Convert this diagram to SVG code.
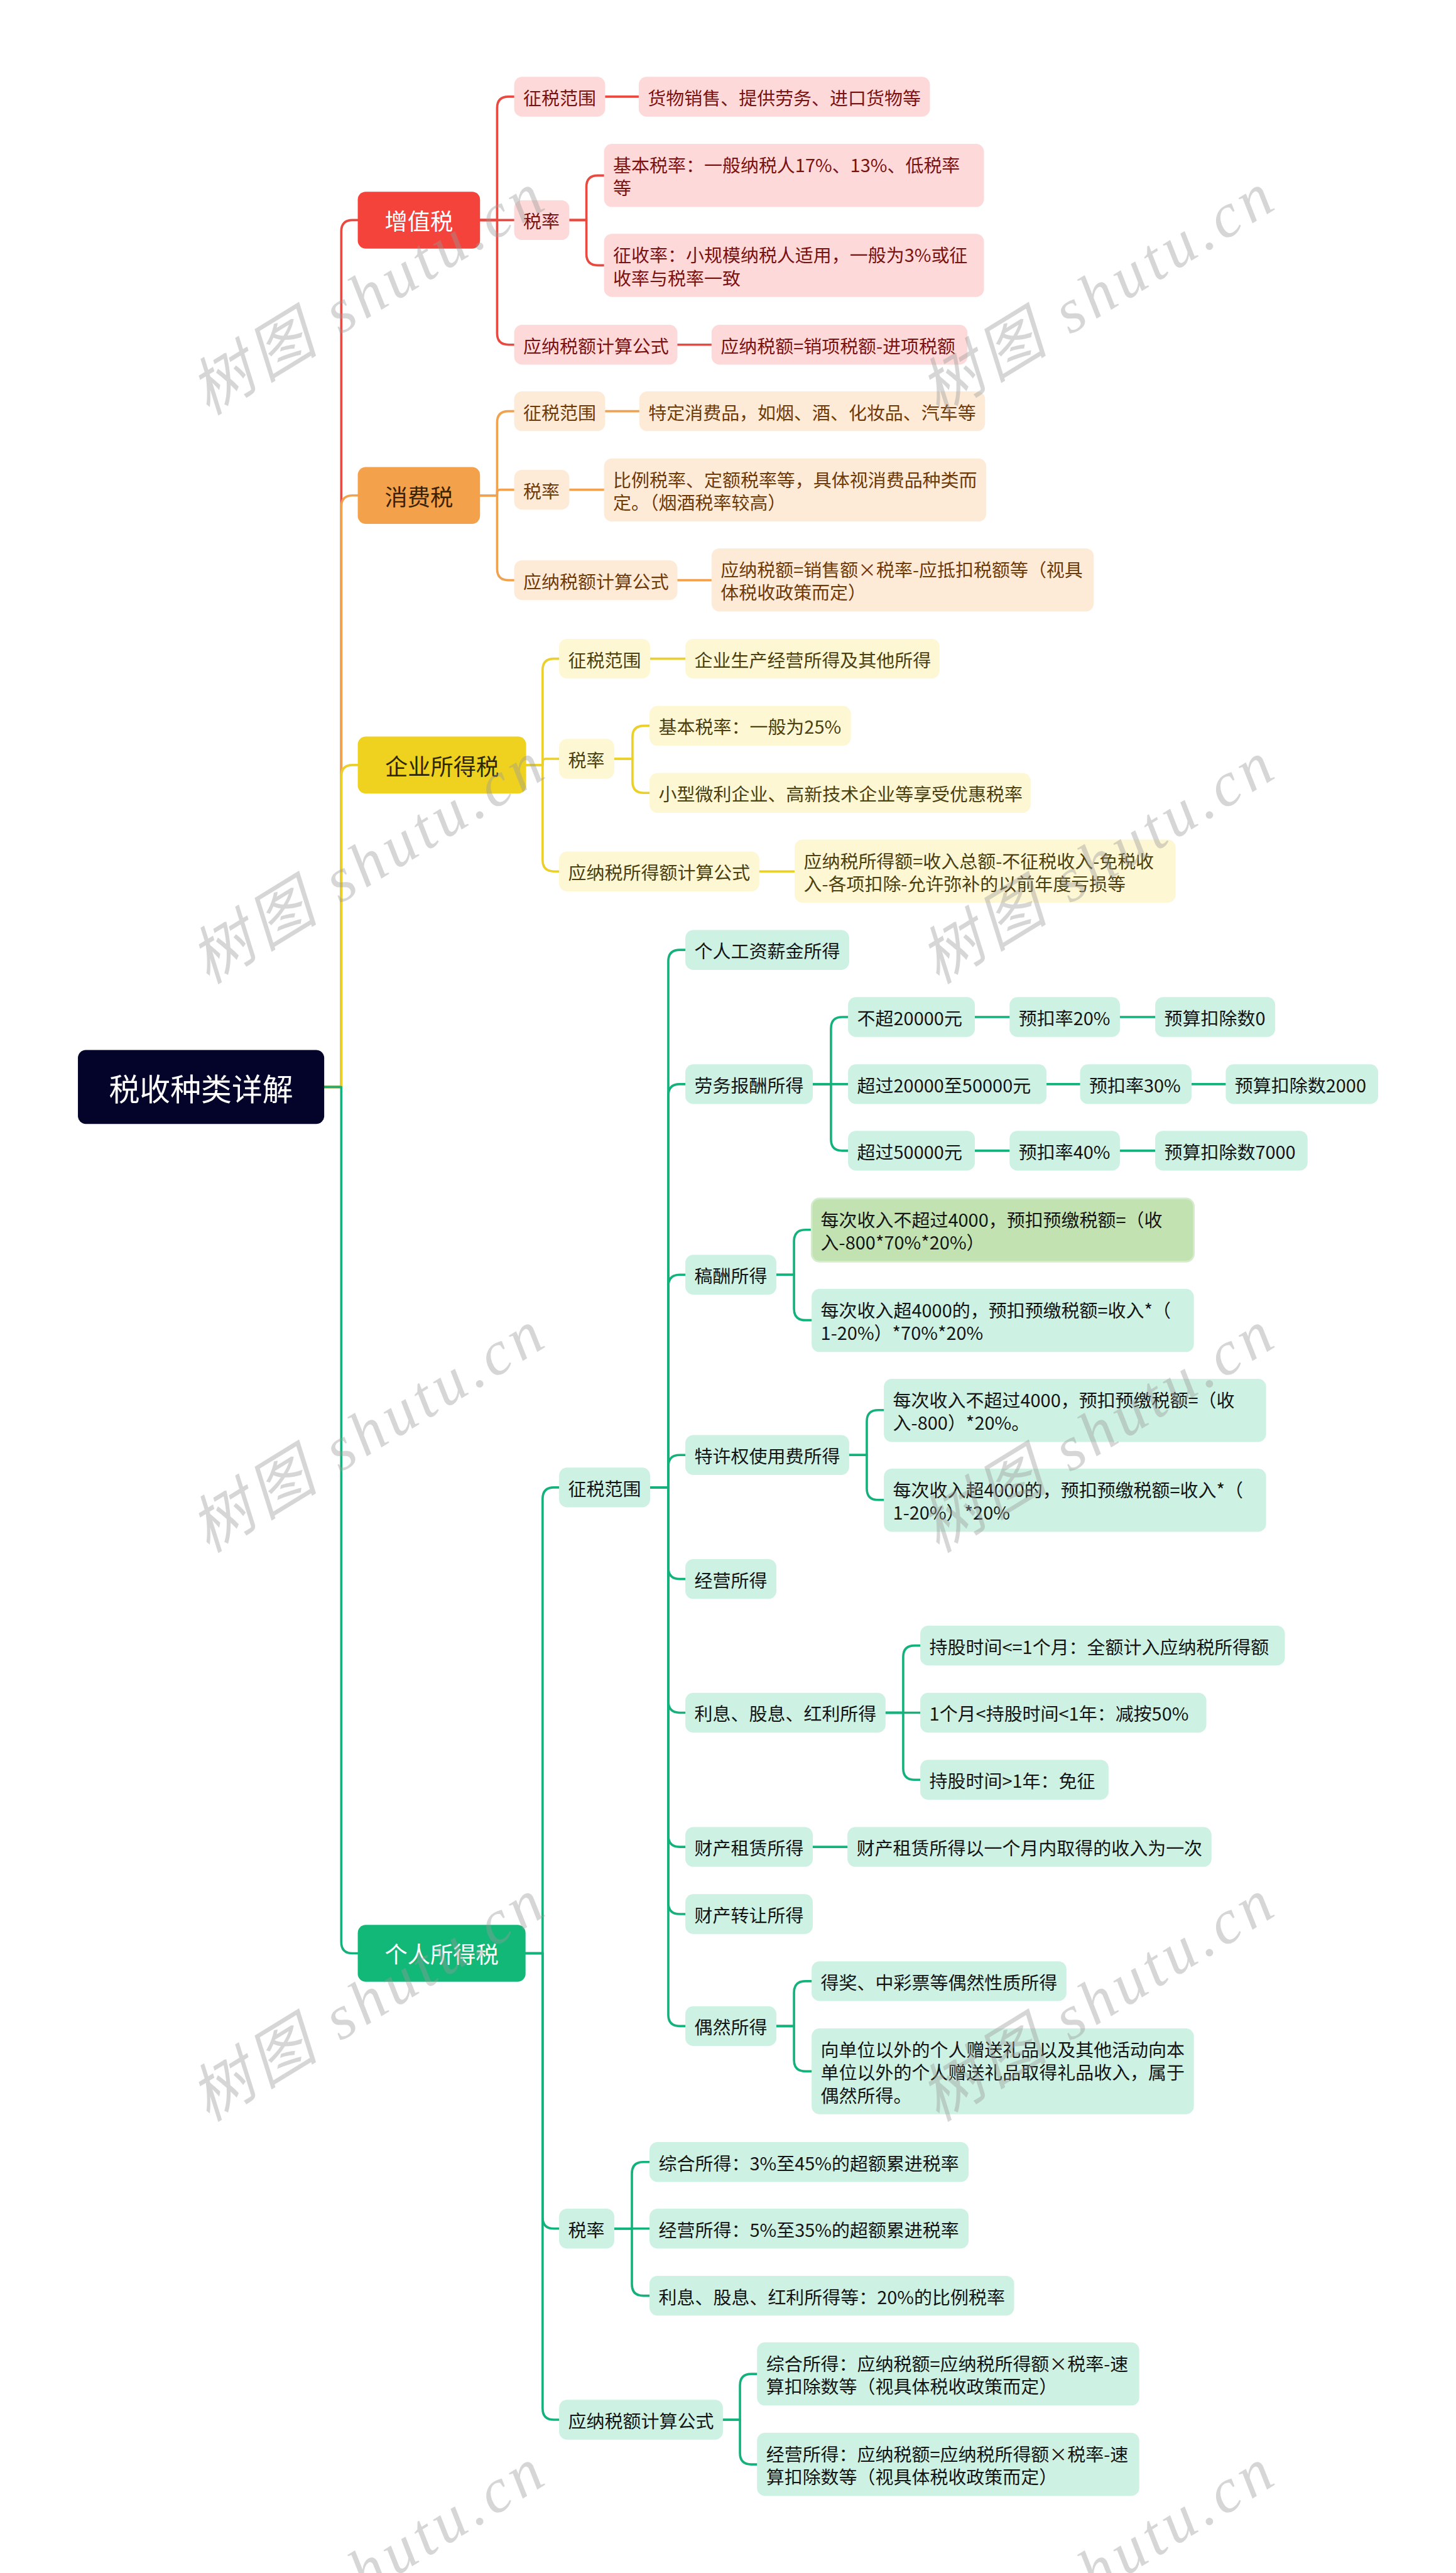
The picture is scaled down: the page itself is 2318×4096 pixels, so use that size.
<svg xmlns="http://www.w3.org/2000/svg" width="2318" height="4096" viewBox="0 0 2318 4096">
<style>
text{font-family:"Noto Sans CJK SC","Noto Sans",sans-serif;dominant-baseline:central}
.t{font-size:32px}
.l1{font-size:40px;text-anchor:middle}
.rt{font-size:54px;text-anchor:middle;fill:#fff}
.c path{fill:none;stroke-width:4;stroke-linecap:round;stroke-linejoin:round}
.cr path{stroke:#e84a41}.co path{stroke:#f1a24f}.cy path{stroke:#ecd02a}.cg path{stroke:#13b27a}
.r rect{fill:#fdd9d9}.r text{fill:#7a1212}
.o rect{fill:#fdebd8}.o text{fill:#6e3a08}
.y rect{fill:#fdf7d4}.y text{fill:#4a4010}
.g rect{fill:#cdf1e2}.g text{fill:#141414}
.wm{font-family:"Liberation Serif","Noto Sans CJK SC",serif;font-style:italic;font-size:110px;fill:#999;fill-opacity:.4;text-anchor:middle}
</style>
<g transform="scale(0.9055)">
<rect x="0" y="0" width="2560" height="4523" fill="#fff"/>
<g id="connectors" class="c">
<g class="cr">
<path d="M570 1911 H600 V407 Q600 387 620 387 H629"/>
<path d="M844 387 H874 V190 Q874 170 894 170 H904"/>
<path d="M844 387 H904"/>
<path d="M844 387 H874 V586 Q874 606 894 606 H904"/>
<path d="M1064 170 H1123"/>
<path d="M1001 387 H1031 V328.5 Q1031 308.5 1051 308.5 H1062"/>
<path d="M1001 387 H1031 V446.5 Q1031 466.5 1051 466.5 H1062"/>
<path d="M1191 606 H1251"/>
</g>
<g class="co">
<path d="M570 1911 H600 V891 Q600 871 620 871 H629"/>
<path d="M844 871 H874 V743 Q874 723 894 723 H904"/>
<path d="M844 871 H874 V866 Q874 861 879 861 H904"/>
<path d="M844 871 H874 V1000 Q874 1020 894 1020 H904"/>
<path d="M1064 723 H1124"/>
<path d="M1001 861 H1062"/>
<path d="M1191 1020 H1251"/>
</g>
<g class="cy">
<path d="M570 1911 H600 V1365 Q600 1345 620 1345 H629"/>
<path d="M925 1345 H954 V1178 Q954 1158 974 1158 H983"/>
<path d="M925 1345 H954 V1339 Q954 1334 959 1334 H983"/>
<path d="M925 1345 H954 V1512 Q954 1532 974 1532 H983"/>
<path d="M1143 1158 H1205"/>
<path d="M1080 1334 H1112 V1296 Q1112 1276 1132 1276 H1142"/>
<path d="M1080 1334 H1112 V1374 Q1112 1394 1132 1394 H1142"/>
<path d="M1335 1532 H1397"/>
</g>
<g class="cg">
<path d="M570 1911 H600 V3414 Q600 3434 620 3434 H629"/>
<path d="M924 3434 H954 V2635 Q954 2615 974 2615 H983"/>
<path d="M924 3434 H954 V3898 Q954 3918 974 3918 H983"/>
<path d="M924 3434 H954 V4234 Q954 4254 974 4254 H983"/>
<path d="M1143 2615 H1175 V1690 Q1175 1670 1195 1670 H1205"/>
<path d="M1143 2615 H1175 V1926 Q1175 1906 1195 1906 H1205"/>
<path d="M1143 2615 H1175 V2261 Q1175 2241 1195 2241 H1205"/>
<path d="M1143 2615 H1175 V2578 Q1175 2558 1195 2558 H1205"/>
<path d="M1143 2615 H1175 V2756 Q1175 2776 1195 2776 H1205"/>
<path d="M1143 2615 H1175 V2991 Q1175 3011 1195 3011 H1205"/>
<path d="M1143 2615 H1175 V3227 Q1175 3247 1195 3247 H1205"/>
<path d="M1143 2615 H1175 V3345 Q1175 3365 1195 3365 H1205"/>
<path d="M1143 2615 H1175 V3542 Q1175 3562 1195 3562 H1205"/>
<path d="M1429 1906 H1461 V1808 Q1461 1788 1481 1788 H1491"/>
<path d="M1429 1906 H1491"/>
<path d="M1429 1906 H1461 V2003 Q1461 2023 1481 2023 H1491"/>
<path d="M1714 1788 H1775"/><path d="M1969 1788 H2031"/>
<path d="M1840 1906 H1899"/><path d="M2095 1906 H2155"/>
<path d="M1714 2023 H1775"/><path d="M1969 2023 H2031"/>
<path d="M1365 2241 H1396 V2182 Q1396 2162 1416 2162 H1427"/>
<path d="M1365 2241 H1396 V2301 Q1396 2321 1416 2321 H1427"/>
<path d="M1493 2558 H1524 V2499 Q1524 2479 1544 2479 H1554"/>
<path d="M1493 2558 H1524 V2617 Q1524 2637 1544 2637 H1554"/>
<path d="M1557 3011 H1588 V2913 Q1588 2893 1608 2893 H1618"/>
<path d="M1557 3011 H1618"/>
<path d="M1557 3011 H1588 V3109 Q1588 3129 1608 3129 H1618"/>
<path d="M1429 3247 H1490"/>
<path d="M1365 3562 H1396 V3503 Q1396 3483 1416 3483 H1427"/>
<path d="M1365 3562 H1396 V3621.5 Q1396 3641.5 1416 3641.5 H1427"/>
<path d="M1080 3918 H1111 V3821 Q1111 3801 1131 3801 H1142"/>
<path d="M1080 3918 H1142"/>
<path d="M1080 3918 H1111 V4016 Q1111 4036 1131 4036 H1142"/>
<path d="M1271 4254 H1301 V4193.5 Q1301 4173.5 1321 4173.5 H1331"/>
<path d="M1271 4254 H1301 V4312.5 Q1301 4332.5 1321 4332.5 H1331"/>
</g>
</g>

<g id="root"><rect x="137" y="1846" width="433" height="130" rx="14" fill="#04042a"/><text class="rt" x="353.5" y="1911">税收种类详解</text></g>

<g id="vat"><rect x="629" y="337" width="215" height="100" rx="14" fill="#f4433b"/><text class="l1" x="736.5" y="387" fill="#fff">增值税</text></g>
<g class="r">
<g id="vat-scope"><rect x="904" y="135" width="160" height="70" rx="14"/><text class="t" x="920" y="170">征税范围</text></g>
<g id="vat-scope-c"><rect x="1123" y="135" width="512" height="70" rx="14"/><text class="t" x="1139" y="170">货物销售、提供劳务、进口货物等</text></g>
<g id="vat-rate"><rect x="904" y="352" width="97" height="70" rx="14"/><text class="t" x="920" y="387">税率</text></g>
<g id="vat-rate-a"><rect x="1062" y="253" width="668" height="111" rx="14"/><text class="t" x="1078" y="288.5">基本税率：一般纳税人17%、13%、低税率</text><text class="t" x="1078" y="328.5">等</text></g>
<g id="vat-rate-b"><rect x="1062" y="411" width="668" height="111" rx="14"/><text class="t" x="1078" y="446.5">征收率：小规模纳税人适用，一般为3%或征</text><text class="t" x="1078" y="486.5">收率与税率一致</text></g>
<g id="vat-formula"><rect x="904" y="571" width="287" height="70" rx="14"/><text class="t" x="920" y="606">应纳税额计算公式</text></g>
<g id="vat-formula-c"><rect x="1251" y="571" width="450" height="70" rx="14"/><text class="t" x="1267" y="606">应纳税额=销项税额-进项税额</text></g>
</g>

<g id="con"><rect x="629" y="821" width="215" height="100" rx="14" fill="#f4a14c"/><text class="l1" x="736.5" y="871" fill="#3a2205">消费税</text></g>
<g class="o">
<g id="con-scope"><rect x="904" y="688" width="160" height="70" rx="14"/><text class="t" x="920" y="723">征税范围</text></g>
<g id="con-scope-c"><rect x="1124" y="688" width="608" height="70" rx="14"/><text class="t" x="1140" y="723">特定消费品，如烟、酒、化妆品、汽车等</text></g>
<g id="con-rate"><rect x="904" y="826" width="97" height="70" rx="14"/><text class="t" x="920" y="861">税率</text></g>
<g id="con-rate-c"><rect x="1062" y="806" width="672" height="111" rx="14"/><text class="t" x="1078" y="841.5">比例税率、定额税率等，具体视消费品种类而</text><text class="t" x="1078" y="881.5">定。（烟酒税率较高）</text></g>
<g id="con-formula"><rect x="904" y="985" width="287" height="70" rx="14"/><text class="t" x="920" y="1020">应纳税额计算公式</text></g>
<g id="con-formula-c"><rect x="1251" y="964" width="672" height="111" rx="14"/><text class="t" x="1267" y="999.5">应纳税额=销售额×税率-应抵扣税额等（视具</text><text class="t" x="1267" y="1039.5">体税收政策而定）</text></g>
</g>

<g id="cit"><rect x="629" y="1295" width="296" height="100" rx="14" fill="#efd21f"/><text class="l1" x="777" y="1345" fill="#2e2800">企业所得税</text></g>
<g class="y">
<g id="cit-scope"><rect x="983" y="1123" width="160" height="70" rx="14"/><text class="t" x="999" y="1158">征税范围</text></g>
<g id="cit-scope-c"><rect x="1205" y="1123" width="447" height="70" rx="14"/><text class="t" x="1221" y="1158">企业生产经营所得及其他所得</text></g>
<g id="cit-rate"><rect x="983" y="1299" width="97" height="70" rx="14"/><text class="t" x="999" y="1334">税率</text></g>
<g id="cit-rate-a"><rect x="1142" y="1241" width="354" height="70" rx="14"/><text class="t" x="1158" y="1276">基本税率：一般为25%</text></g>
<g id="cit-rate-b"><rect x="1142" y="1359" width="670" height="70" rx="14"/><text class="t" x="1158" y="1394">小型微利企业、高新技术企业等享受优惠税率</text></g>
<g id="cit-formula"><rect x="983" y="1497" width="352" height="70" rx="14"/><text class="t" x="999" y="1532">应纳税所得额计算公式</text></g>
<g id="cit-formula-c"><rect x="1397" y="1476" width="670" height="111" rx="14"/><text class="t" x="1413" y="1511.5">应纳税所得额=收入总额-不征税收入-免税收</text><text class="t" x="1413" y="1551.5">入-各项扣除-允许弥补的以前年度亏损等</text></g>
</g>

<g id="pit"><rect x="629" y="3384" width="295" height="100" rx="14" fill="#12b878"/><text class="l1" x="776.5" y="3434" fill="#fff">个人所得税</text></g>
<g class="g">
<g id="pit-scope"><rect x="983" y="2580" width="160" height="70" rx="14"/><text class="t" x="999" y="2615">征税范围</text></g>
<g id="pit-salary"><rect x="1205" y="1635" width="288" height="70" rx="14"/><text class="t" x="1221" y="1670">个人工资薪金所得</text></g>
<g id="pit-labor"><rect x="1205" y="1871" width="224" height="70" rx="14"/><text class="t" x="1221" y="1906">劳务报酬所得</text></g>
<g id="lab-1"><rect x="1491" y="1753" width="223" height="70" rx="14"/><text class="t" x="1507" y="1788">不超20000元</text></g>
<g id="lab-1r"><rect x="1775" y="1753" width="194" height="70" rx="14"/><text class="t" x="1791" y="1788">预扣率20%</text></g>
<g id="lab-1d"><rect x="2031" y="1753" width="211" height="70" rx="14"/><text class="t" x="2047" y="1788">预算扣除数0</text></g>
<g id="lab-2"><rect x="1491" y="1871" width="349" height="70" rx="14"/><text class="t" x="1507" y="1906">超过20000至50000元</text></g>
<g id="lab-2r"><rect x="1899" y="1871" width="196" height="70" rx="14"/><text class="t" x="1915" y="1906">预扣率30%</text></g>
<g id="lab-2d"><rect x="2155" y="1871" width="268" height="70" rx="14"/><text class="t" x="2171" y="1906">预算扣除数2000</text></g>
<g id="lab-3"><rect x="1491" y="1988" width="223" height="70" rx="14"/><text class="t" x="1507" y="2023">超过50000元</text></g>
<g id="lab-3r"><rect x="1775" y="1988" width="194" height="70" rx="14"/><text class="t" x="1791" y="2023">预扣率40%</text></g>
<g id="lab-3d"><rect x="2031" y="1988" width="268" height="70" rx="14"/><text class="t" x="2047" y="2023">预算扣除数7000</text></g>
<g id="pit-royalty"><rect x="1205" y="2206" width="160" height="70" rx="14"/><text class="t" x="1221" y="2241">稿酬所得</text></g>
<g id="roy-1"><rect x="1427" y="2107" width="672" height="111" rx="14" style="fill:#c2e3b1;stroke:#d3eccb;stroke-width:3"/><text class="t" x="1443" y="2142">每次收入不超过4000，预扣预缴税额=（收</text><text class="t" x="1443" y="2182">入-800*70%*20%）</text></g>
<g id="roy-2"><rect x="1427" y="2266" width="672" height="111" rx="14"/><text class="t" x="1443" y="2301">每次收入超4000的，预扣预缴税额=收入*（</text><text class="t" x="1443" y="2341">1-20%）*70%*20%</text></g>
<g id="pit-franchise"><rect x="1205" y="2523" width="288" height="70" rx="14"/><text class="t" x="1221" y="2558">特许权使用费所得</text></g>
<g id="fr-1"><rect x="1554" y="2424" width="672" height="111" rx="14"/><text class="t" x="1570" y="2459">每次收入不超过4000，预扣预缴税额=（收</text><text class="t" x="1570" y="2499">入-800）*20%。</text></g>
<g id="fr-2"><rect x="1554" y="2582" width="672" height="111" rx="14"/><text class="t" x="1570" y="2617">每次收入超4000的，预扣预缴税额=收入*（</text><text class="t" x="1570" y="2657">1-20%）*20%</text></g>
<g id="pit-business"><rect x="1205" y="2741" width="160" height="70" rx="14"/><text class="t" x="1221" y="2776">经营所得</text></g>
<g id="pit-interest"><rect x="1205" y="2976" width="352" height="70" rx="14"/><text class="t" x="1221" y="3011">利息、股息、红利所得</text></g>
<g id="int-1"><rect x="1618" y="2858" width="641" height="70" rx="14"/><text class="t" x="1634" y="2893">持股时间&lt;=1个月：全额计入应纳税所得额</text></g>
<g id="int-2"><rect x="1618" y="2976" width="503" height="70" rx="14"/><text class="t" x="1634" y="3011">1个月&lt;持股时间&lt;1年：减按50%</text></g>
<g id="int-3"><rect x="1618" y="3094" width="331" height="70" rx="14"/><text class="t" x="1634" y="3129">持股时间&gt;1年：免征</text></g>
<g id="pit-lease"><rect x="1205" y="3212" width="224" height="70" rx="14"/><text class="t" x="1221" y="3247">财产租赁所得</text></g>
<g id="lease-c"><rect x="1490" y="3212" width="640" height="70" rx="14"/><text class="t" x="1506" y="3247">财产租赁所得以一个月内取得的收入为一次</text></g>
<g id="pit-transfer"><rect x="1205" y="3330" width="224" height="70" rx="14"/><text class="t" x="1221" y="3365">财产转让所得</text></g>
<g id="pit-occasional"><rect x="1205" y="3527" width="160" height="70" rx="14"/><text class="t" x="1221" y="3562">偶然所得</text></g>
<g id="occ-1"><rect x="1427" y="3448" width="448" height="70" rx="14"/><text class="t" x="1443" y="3483">得奖、中彩票等偶然性质所得</text></g>
<g id="occ-2"><rect x="1427" y="3566" width="672" height="151" rx="14"/><text class="t" x="1443" y="3601.5">向单位以外的个人赠送礼品以及其他活动向本</text><text class="t" x="1443" y="3641.5">单位以外的个人赠送礼品取得礼品收入，属于</text><text class="t" x="1443" y="3681.5">偶然所得。</text></g>
<g id="pit-rate"><rect x="983" y="3883" width="97" height="70" rx="14"/><text class="t" x="999" y="3918">税率</text></g>
<g id="rate-1"><rect x="1142" y="3766" width="561" height="70" rx="14"/><text class="t" x="1158" y="3801">综合所得：3%至45%的超额累进税率</text></g>
<g id="rate-2"><rect x="1142" y="3883" width="561" height="70" rx="14"/><text class="t" x="1158" y="3918">经营所得：5%至35%的超额累进税率</text></g>
<g id="rate-3"><rect x="1142" y="4001" width="641" height="70" rx="14"/><text class="t" x="1158" y="4036">利息、股息、红利所得等：20%的比例税率</text></g>
<g id="pit-formula"><rect x="983" y="4219" width="288" height="70" rx="14"/><text class="t" x="999" y="4254">应纳税额计算公式</text></g>
<g id="form-1"><rect x="1331" y="4118" width="672" height="111" rx="14"/><text class="t" x="1347" y="4153.5">综合所得：应纳税额=应纳税所得额×税率-速</text><text class="t" x="1347" y="4193.5">算扣除数等（视具体税收政策而定）</text></g>
<g id="form-2"><rect x="1331" y="4277" width="672" height="111" rx="14"/><text class="t" x="1347" y="4312.5">经营所得：应纳税额=应纳税所得额×税率-速</text><text class="t" x="1347" y="4352.5">算扣除数等（视具体税收政策而定）</text></g>
</g>

<g id="watermarks">
<text class="wm" x="645" y="517" transform="rotate(-31.5 645 517)" textLength="700" lengthAdjust="spacing">树图 shutu.cn</text>
<text class="wm" x="1928" y="517" transform="rotate(-31.5 1928 517)" textLength="700" lengthAdjust="spacing">树图 shutu.cn</text>
<text class="wm" x="645" y="1517" transform="rotate(-31.5 645 1517)" textLength="700" lengthAdjust="spacing">树图 shutu.cn</text>
<text class="wm" x="1928" y="1517" transform="rotate(-31.5 1928 1517)" textLength="700" lengthAdjust="spacing">树图 shutu.cn</text>
<text class="wm" x="645" y="2517" transform="rotate(-31.5 645 2517)" textLength="700" lengthAdjust="spacing">树图 shutu.cn</text>
<text class="wm" x="1928" y="2517" transform="rotate(-31.5 1928 2517)" textLength="700" lengthAdjust="spacing">树图 shutu.cn</text>
<text class="wm" x="645" y="3517" transform="rotate(-31.5 645 3517)" textLength="700" lengthAdjust="spacing">树图 shutu.cn</text>
<text class="wm" x="1928" y="3517" transform="rotate(-31.5 1928 3517)" textLength="700" lengthAdjust="spacing">树图 shutu.cn</text>
<text class="wm" x="645" y="4517" transform="rotate(-31.5 645 4517)" textLength="700" lengthAdjust="spacing">树图 shutu.cn</text>
<text class="wm" x="1928" y="4517" transform="rotate(-31.5 1928 4517)" textLength="700" lengthAdjust="spacing">树图 shutu.cn</text>
</g>
</g>
</svg>
